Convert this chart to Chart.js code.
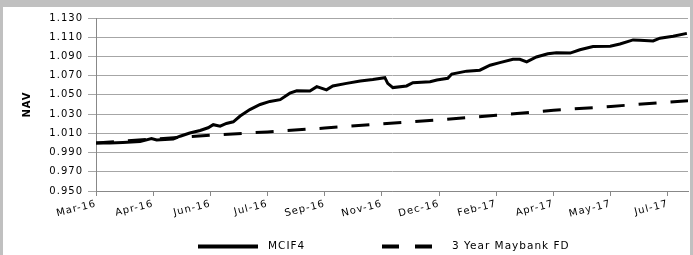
<!DOCTYPE html>
<html>
<head>
<meta charset="utf-8">
<script src="https://cdn.jsdelivr.net/npm/chart.js@4.4.1/dist/chart.umd.min.js"></script>
<style>
  html, body { margin: 0; padding: 0; background: #c0c0c0; }
  #wrap { position: absolute; left: 3px; top: 7px; width: 687px; height: 248px; background: #fff; }
</style>
</head>
<body>
<div id="wrap"><canvas id="navChart" width="687" height="248"></canvas></div>
<script>
// x axis labels, one per tick (positions are in tick units)
const tickLabels = ["Mar-16", "Apr-16", "Jun-16", "Jul-16", "Sep-16", "Nov-16",
  "Dec-16", "Feb-17", "Apr-17", "May-17", "Jul-17"]
const axisEnd = 10.35

// MCIF4 NAV
const mcifPos = [0, 0.24, 0.47, 0.77, 0.97, 1.06, 1.35, 1.47, 1.64, 1.82, 1.96, 2.05,
  2.17, 2.28, 2.40, 2.52, 2.69, 2.87, 3.04, 3.22, 3.39, 3.51, 3.74, 3.86, 4.03, 4.14,
  4.38, 4.62, 4.84, 5.05, 5.10, 5.19, 5.43, 5.54, 5.84, 5.96, 6.15, 6.22, 6.48, 6.71,
  6.89, 7.06, 7.29, 7.41, 7.53, 7.70, 7.90, 8.05, 8.29, 8.46, 8.69, 8.99, 9.16, 9.39,
  9.51, 9.74, 9.86, 10.09, 10.33]
const mcifNav = [1.000, 1.000, 1.0005, 1.0014, 1.0045, 1.003, 1.0042, 1.007, 1.0103,
  1.013, 1.0158, 1.019, 1.0175, 1.0203, 1.022, 1.028, 1.0347, 1.040, 1.0432, 1.045,
  1.0518, 1.0542, 1.054, 1.0586, 1.0552, 1.0593, 1.062, 1.0645, 1.066, 1.0679, 1.062,
  1.0576, 1.0593, 1.0627, 1.0637, 1.0655, 1.0672, 1.0717, 1.0747, 1.0757, 1.0809,
  1.0836, 1.087, 1.087, 1.0843, 1.0894, 1.0928, 1.0938, 1.0935, 1.097, 1.1004, 1.1007,
  1.103, 1.1072, 1.1069, 1.1062, 1.109, 1.111, 1.114]

// 3 Year Maybank FD
const fdPos = [0, 1, 2, 3, 4, 5, 6, 7, 8, 9, 10, 10.35]
const fdNav = [1.000, 1.004, 1.008, 1.0115, 1.0155, 1.020, 1.024, 1.0288, 1.034, 1.038, 1.0425, 1.044]

const yMin = 0.95
const yMax = 1.13
const yStep = 0.02

const toPoints = (xs, ys) => xs.map((x, i) => ({ x: x, y: ys[i] }))

const spacing = {
  id: "spacing",
  beforeLayout: chart => { chart.ctx.letterSpacing = "1px" },
  beforeDraw: chart => { chart.ctx.letterSpacing = "1px" },
}

// legend under the plot: line sample then name, like the spreadsheet one
const lineLegend = {
  id: "lineLegend",
  afterDraw: chart => {
    const ctx = chart.ctx
    const left = chart.chartArea.left
    const y = 239.5
    const items = [
      { ds: chart.data.datasets[0], x0: 102, x1: 162, tx: 172, dash: [] },
      { ds: chart.data.datasets[1], x0: 286, x1: 336, tx: 356, dash: [17, 16] },
    ]
    ctx.save()
    ctx.letterSpacing = "1px"
    ctx.font = "10.5px 'DejaVu Sans', Verdana, sans-serif"
    ctx.fillStyle = "#000"
    ctx.textBaseline = "middle"
    items.forEach(it => {
      ctx.beginPath()
      ctx.setLineDash(it.dash)
      ctx.lineWidth = 4
      ctx.strokeStyle = it.ds.borderColor
      ctx.moveTo(left + it.x0, y)
      ctx.lineTo(left + it.x1, y)
      ctx.stroke()
      ctx.fillText(it.ds.label, left + it.tx, y)
    })
    ctx.restore()
  },
}

Chart.defaults.font.family = "'DejaVu Sans', Verdana, sans-serif"
Chart.defaults.font.size = 10
Chart.defaults.color = "#000"

new Chart(document.getElementById("navChart"), {
  type: "line",
  data: {
    datasets: [
      {
        label: "MCIF4",
        data: toPoints(mcifPos, mcifNav),
        borderColor: "#000",
        backgroundColor: "#000",
        borderWidth: 3,
        pointRadius: 0,
        tension: 0,
      },
      {
        label: "3 Year Maybank FD",
        data: toPoints(fdPos, fdNav),
        borderColor: "#000",
        backgroundColor: "#000",
        borderWidth: 3,
        borderDash: [18, 14],
        pointRadius: 0,
        tension: 0,
      },
    ],
  },
  options: {
    responsive: false,
    animation: false,
    layout: { padding: { top: 2, right: 2, left: 0, bottom: 24 } },
    plugins: {
      tooltip: { enabled: false },
      legend: { display: false },
    },
    scales: {
      x: {
        type: "linear",
        min: 0,
        max: axisEnd,
        afterBuildTicks: axis => {
          axis.ticks = tickLabels.map((_, i) => ({ value: i }))
        },
        afterFit: axis => { axis.height = 40 },
        ticks: {
          autoSkip: false,
          minRotation: 14,
          maxRotation: 14,
          padding: 2,
          callback: value => tickLabels[value],
        },
        grid: { drawOnChartArea: false, drawTicks: true, tickLength: 5, color: "#888" },
        border: { color: "#888", width: 1 },
      },
      y: {
        min: yMin,
        max: yMax,
        afterFit: axis => { axis.width = 93 },
        ticks: {
          stepSize: yStep,
          padding: 5,
          callback: value => value.toFixed(3),
        },
        title: {
          display: true,
          text: "NAV",
          font: { weight: "bold", size: 10 },
          padding: { top: 18, bottom: 0 },
        },
        grid: { color: "#a6a6a6", tickLength: 8 },
        border: { color: "#888", width: 1 },
      },
    },
  },
  plugins: [spacing, lineLegend],
})
</script>
</body>
</html>
